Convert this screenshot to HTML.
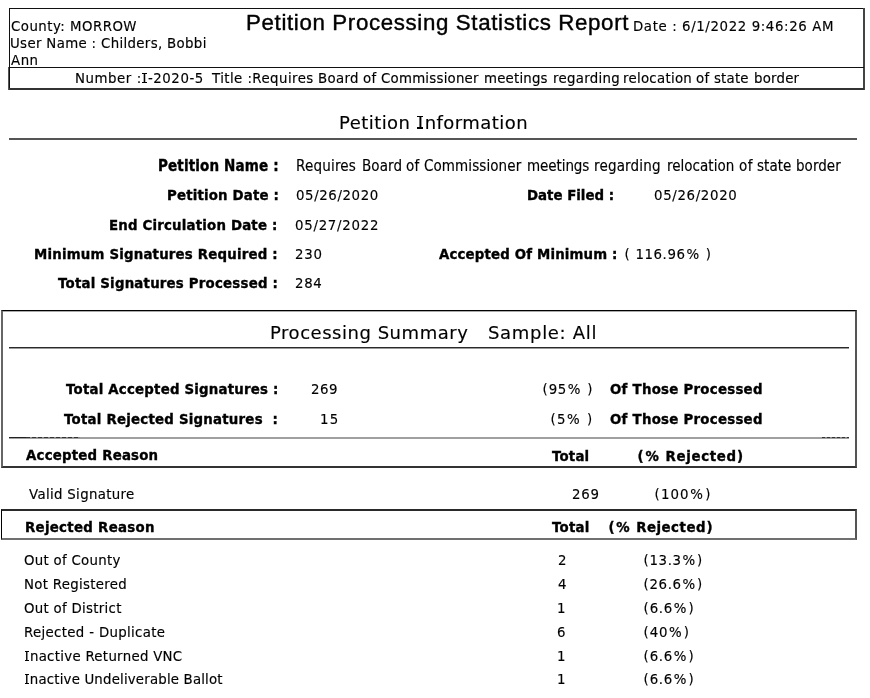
<!DOCTYPE html>
<html lang="en"><head><meta charset="utf-8"><title>Petition Processing Statistics Report</title>
<style>
html,body{margin:0;padding:0;background:#fff;}
body{width:870px;height:698px;position:relative;overflow:hidden;color:#000;}
div{position:absolute;white-space:pre;line-height:1.2;font-size:13.33px;will-change:transform;}
.v{font-family:'DejaVu Sans','Liberation Sans',sans-serif;}
.vc{font-family:'DejaVu Sans Condensed','DejaVu Sans',sans-serif;font-stretch:condensed;}
.a{font-family:'Liberation Sans',Arial,sans-serif;}
.v,.vc{-webkit-text-stroke:0.15px #000;}
.b{font-weight:700;-webkit-text-stroke:0.35px #000;}
.a{-webkit-text-stroke:0.4px #000;}
.ln{font-size:0;line-height:0;}
.si{position:relative;margin:0 0.066em 0 0.06em;}
.si::before,.si::after{content:"";position:absolute;left:-0.02em;width:0.334em;height:0.09em;background:#000;}
.si::before{top:0.135em;}
.si::after{top:0.838em;}
.pc{margin:0 0.065em;}
.pp{margin:0 0.03em;}
.big .si::before{top:0.2em;}
.big .si::after{top:0.858em;}
.big .si::before,.big .si::after{height:0.07em;}
</style></head><body>
<div class="ln" style="left:9px;top:8px;width:855px;height:1px;background:#111"></div>
<div class="ln" style="left:9px;top:8px;width:1px;height:81px;background:#111"></div>
<div class="ln" style="left:8px;top:67px;width:1px;height:23px;background:#555"></div>
<div class="ln" style="left:863px;top:8px;width:2px;height:82px;background:#444"></div>
<div class="ln" style="left:9px;top:67px;width:855px;height:1px;background:#111"></div>
<div class="ln" style="left:9px;top:88px;width:855px;height:2px;background:#333"></div>
<div class="ln" style="left:9px;top:138px;width:848px;height:2px;background:#555"></div>
<div class="ln" style="left:1px;top:310px;width:856px;height:158px;box-sizing:border-box;border-top:1px solid #000;border-left:2px solid #666;border-right:2px solid #555;border-bottom:2px solid #333;box-shadow:inset 0 1px 0 #aaa"></div>
<div class="ln" style="left:9px;top:347px;width:840px;height:1px;background:#2a2a2a;border-bottom:1px solid #999"></div>
<div class="ln" style="left:9px;top:437px;width:840px;height:2px;background:#a0a0a0"></div>
<div class="ln" style="left:1px;top:509px;width:856px;height:31px;box-sizing:border-box;border-top:2px solid #2a2a2a;border-left:1px solid #000;border-right:2px solid #555;border-bottom:2px solid #707070"></div>
<div class="ln" style="left:9px;top:437px;width:17px;height:1px;background:#222"></div>
<div class="ln" style="left:26px;top:437px;width:54px;height:1px;background:repeating-linear-gradient(90deg,#333 0 4px,#888 4px 6px)"></div>
<div class="ln" style="left:822px;top:437px;width:27px;height:1px;background:repeating-linear-gradient(90deg,#333 0 3px,#888 3px 5px)"></div>

<div id="county" class="v" style="left:10.5px;top:19.0px;letter-spacing:0.47px;">County: MORROW</div>
<div id="user" class="v" style="left:10.3px;top:36.0px;letter-spacing:0.34px;">User Name : Childers, Bobbi</div>
<div id="ann" class="v" style="left:11.4px;top:52.5px;letter-spacing:0.51px;">Ann</div>
<div id="title" class="a" style="left:246.1px;top:10.0px;font-size:22.3px;letter-spacing:0.64px;">Petition Processing Statistics Report</div>
<div id="date" class="v" style="left:632.5px;top:18.5px;letter-spacing:0.61px;">Date : 6/1/2022 9:46:26 AM</div>
<div id="num1" class="v" style="left:74.7px;top:70.9px;letter-spacing:0.56px;">Number :<span class="si">I</span>-2020-5</div>
<div id="num2" class="v" style="left:211.8px;top:70.9px;letter-spacing:0.44px;">Title :Requires</div>
<div id="num3" class="v" style="left:318.3px;top:70.9px;letter-spacing:0.32px;">Board</div>
<div id="num4" class="v" style="left:363.3px;top:70.9px;letter-spacing:0.33px;">of</div>
<div id="num5" class="v" style="left:381.1px;top:70.9px;letter-spacing:0.23px;">Commissioner</div>
<div id="num6" class="v" style="left:484.4px;top:70.9px;letter-spacing:0.20px;">meetings</div>
<div id="num7" class="v" style="left:552.5px;top:70.9px;letter-spacing:0.30px;">regarding</div>
<div id="num8" class="v" style="left:622.8px;top:70.9px;letter-spacing:0.28px;">relocation</div>
<div id="num9" class="v" style="left:696.4px;top:70.9px;letter-spacing:0.39px;">of</div>
<div id="numa" class="v" style="left:713.7px;top:70.9px;letter-spacing:0.18px;">state</div>
<div id="numb" class="v" style="left:753.7px;top:70.9px;letter-spacing:0.22px;">border</div>
<div id="pinfo" class="v big" style="left:339.0px;top:112.1px;font-size:18px;letter-spacing:0.45px;">Petition <span class="si">I</span>nformation</div>
<div id="pnl" class="vc b" style="left:158.3px;top:157.1px;font-size:15px;letter-spacing:0.15px;">Petition Name :</div>
<div id="pnv1" class="vc" style="left:295.5px;top:157.4px;font-size:15px;letter-spacing:0.21px;">Requires</div>
<div id="pnv2" class="vc" style="left:361.5px;top:157.4px;font-size:15px;letter-spacing:0.10px;">Board</div>
<div id="pnv3" class="vc" style="left:406.3px;top:157.4px;font-size:15px;letter-spacing:0.17px;">of</div>
<div id="pnv4" class="vc" style="left:424.2px;top:157.4px;font-size:15px;letter-spacing:0.09px;">Commissioner</div>
<div id="pnv5" class="vc" style="left:527.1px;top:157.4px;font-size:15px;letter-spacing:-0.08px;">meetings</div>
<div id="pnv6" class="vc" style="left:594.4px;top:157.4px;font-size:15px;letter-spacing:0.18px;">regarding</div>
<div id="pnv7" class="vc" style="left:666.7px;top:157.4px;font-size:15px;letter-spacing:0.02px;">relocation</div>
<div id="pnv8" class="vc" style="left:739.2px;top:157.4px;font-size:15px;letter-spacing:0.48px;">of</div>
<div id="pnv9" class="vc" style="left:756.9px;top:157.4px;font-size:15px;letter-spacing:0.04px;">state</div>
<div id="pnva" class="vc" style="left:795.9px;top:157.4px;font-size:15px;letter-spacing:0.04px;">border</div>
<div id="pdl" class="v b" style="left:166.5px;top:187.5px;letter-spacing:0.18px;">Petition Date :</div>
<div id="pdv" class="v" style="left:295.9px;top:187.5px;letter-spacing:0.60px;">05/26/2020</div>
<div id="dfl" class="v b" style="left:527.1px;top:187.5px;letter-spacing:0.01px;">Date Filed :</div>
<div id="dfv" class="v" style="left:653.7px;top:187.5px;letter-spacing:0.66px;">05/26/2020</div>
<div id="ecl" class="v b" style="left:109.1px;top:218.0px;letter-spacing:0.19px;">End Circulation Date :</div>
<div id="ecv" class="v" style="left:295.1px;top:218.0px;letter-spacing:0.73px;">05/27/2022</div>
<div id="msl" class="v b" style="left:34.1px;top:246.8px;letter-spacing:0.20px;">Minimum Signatures Required :</div>
<div id="msv" class="v" style="left:295.2px;top:246.8px;letter-spacing:0.73px;">230</div>
<div id="aml" class="v b" style="left:438.5px;top:247.0px;letter-spacing:0.16px;">Accepted Of Minimum :</div>
<div id="amv" class="v" style="left:624.2px;top:247.0px;letter-spacing:0.59px;"><span class="pp">(</span> 116.96<span class="pc">%</span> <span class="pp">)</span></div>
<div id="tsl" class="v b" style="left:57.6px;top:276.1px;letter-spacing:0.21px;">Total Signatures Processed :</div>
<div id="tsv" class="v" style="left:295.2px;top:276.1px;letter-spacing:0.66px;">284</div>
<div id="ps" class="v big" style="left:270.0px;top:321.7px;font-size:18px;letter-spacing:0.53px;">Processing Summary</div>
<div id="sa" class="v big" style="left:487.6px;top:321.7px;font-size:18px;letter-spacing:0.68px;">Sample: All</div>
<div id="tal" class="v b" style="left:65.6px;top:382.0px;letter-spacing:0.21px;">Total Accepted Signatures :</div>
<div id="tav" class="v" style="left:311.2px;top:382.0px;letter-spacing:0.48px;">269</div>
<div id="tap" class="v" style="left:541.8px;top:381.8px;letter-spacing:0.65px;"><span class="pp">(</span>95<span class="pc">%</span> <span class="pp">)</span></div>
<div id="tao" class="v b" style="left:610.4px;top:381.8px;letter-spacing:0.26px;">Of Those Processed</div>
<div id="trl" class="v b" style="left:64.4px;top:411.8px;letter-spacing:0.23px;">Total Rejected Signatures  :</div>
<div id="trv" class="v" style="left:319.7px;top:412.0px;letter-spacing:1.29px;">15</div>
<div id="trp" class="v" style="left:550.4px;top:411.8px;letter-spacing:0.88px;"><span class="pp">(</span>5<span class="pc">%</span> <span class="pp">)</span></div>
<div id="tro" class="v b" style="left:610.4px;top:411.8px;letter-spacing:0.26px;">Of Those Processed</div>
<div id="arh" class="v b" style="left:26.1px;top:448.3px;letter-spacing:0.21px;">Accepted Reason</div>
<div id="ath" class="v b" style="left:552.4px;top:448.8px;letter-spacing:0.18px;">Total</div>
<div id="aph" class="v b" style="left:637.2px;top:448.8px;letter-spacing:0.66px;"><span class="pp">(</span><span class="pc">%</span> Rejected<span class="pp">)</span></div>
<div id="vs" class="v" style="left:29.1px;top:486.6px;letter-spacing:0.33px;">Valid Signature</div>
<div id="vst" class="v" style="left:572.4px;top:487.0px;letter-spacing:0.74px;">269</div>
<div id="vsp" class="v" style="left:653.8px;top:487.0px;letter-spacing:0.99px;"><span class="pp">(</span>100<span class="pc">%</span><span class="pp">)</span></div>
<div id="rrh" class="v b" style="left:24.7px;top:520.1px;letter-spacing:0.30px;">Rejected Reason</div>
<div id="rth" class="v b" style="left:551.8px;top:520.0px;letter-spacing:0.22px;">Total</div>
<div id="rph" class="v b" style="left:607.6px;top:520.0px;letter-spacing:0.51px;"><span class="pp">(</span><span class="pc">%</span> Rejected<span class="pp">)</span></div>
<div id="r0a" class="v" style="left:23.7px;top:552.5px;letter-spacing:0.29px;">Out of County</div>
<div id="r0b" class="v" style="left:558.0px;top:552.5px;letter-spacing:0.34px;">2</div>
<div id="r0c" class="v" style="left:643.2px;top:552.5px;letter-spacing:0.58px;"><span class="pp">(</span>13.3<span class="pc">%</span><span class="pp">)</span></div>
<div id="r1a" class="v" style="left:23.7px;top:576.6px;letter-spacing:0.29px;">Not Registered</div>
<div id="r1b" class="v" style="left:558.3px;top:576.6px;letter-spacing:0.34px;">4</div>
<div id="r1c" class="v" style="left:643.2px;top:576.6px;letter-spacing:0.58px;"><span class="pp">(</span>26.6<span class="pc">%</span><span class="pp">)</span></div>
<div id="r2a" class="v" style="left:23.5px;top:600.8px;letter-spacing:0.29px;">Out of District</div>
<div id="r2b" class="v" style="left:557.3px;top:600.8px;letter-spacing:0.34px;">1</div>
<div id="r2c" class="v" style="left:643.2px;top:600.8px;letter-spacing:0.69px;"><span class="pp">(</span>6.6<span class="pc">%</span><span class="pp">)</span></div>
<div id="r3a" class="v" style="left:23.7px;top:624.5px;letter-spacing:0.33px;">Rejected - Duplicate</div>
<div id="r3b" class="v" style="left:557.2px;top:624.5px;letter-spacing:0.34px;">6</div>
<div id="r3c" class="v" style="left:643.2px;top:624.5px;letter-spacing:0.76px;"><span class="pp">(</span>40<span class="pc">%</span><span class="pp">)</span></div>
<div id="r4a" class="v" style="left:23.8px;top:648.6px;letter-spacing:0.29px;"><span class="si">I</span>nactive Returned VNC</div>
<div id="r4b" class="v" style="left:557.3px;top:648.6px;letter-spacing:0.34px;">1</div>
<div id="r4c" class="v" style="left:643.2px;top:648.6px;letter-spacing:0.69px;"><span class="pp">(</span>6.6<span class="pc">%</span><span class="pp">)</span></div>
<div id="r5a" class="v" style="left:23.8px;top:672.3px;letter-spacing:0.18px;"><span class="si">I</span>nactive Undeliverable Ballot</div>
<div id="r5b" class="v" style="left:557.3px;top:672.3px;letter-spacing:0.34px;">1</div>
<div id="r5c" class="v" style="left:643.2px;top:672.3px;letter-spacing:0.69px;"><span class="pp">(</span>6.6<span class="pc">%</span><span class="pp">)</span></div>
</body></html>
